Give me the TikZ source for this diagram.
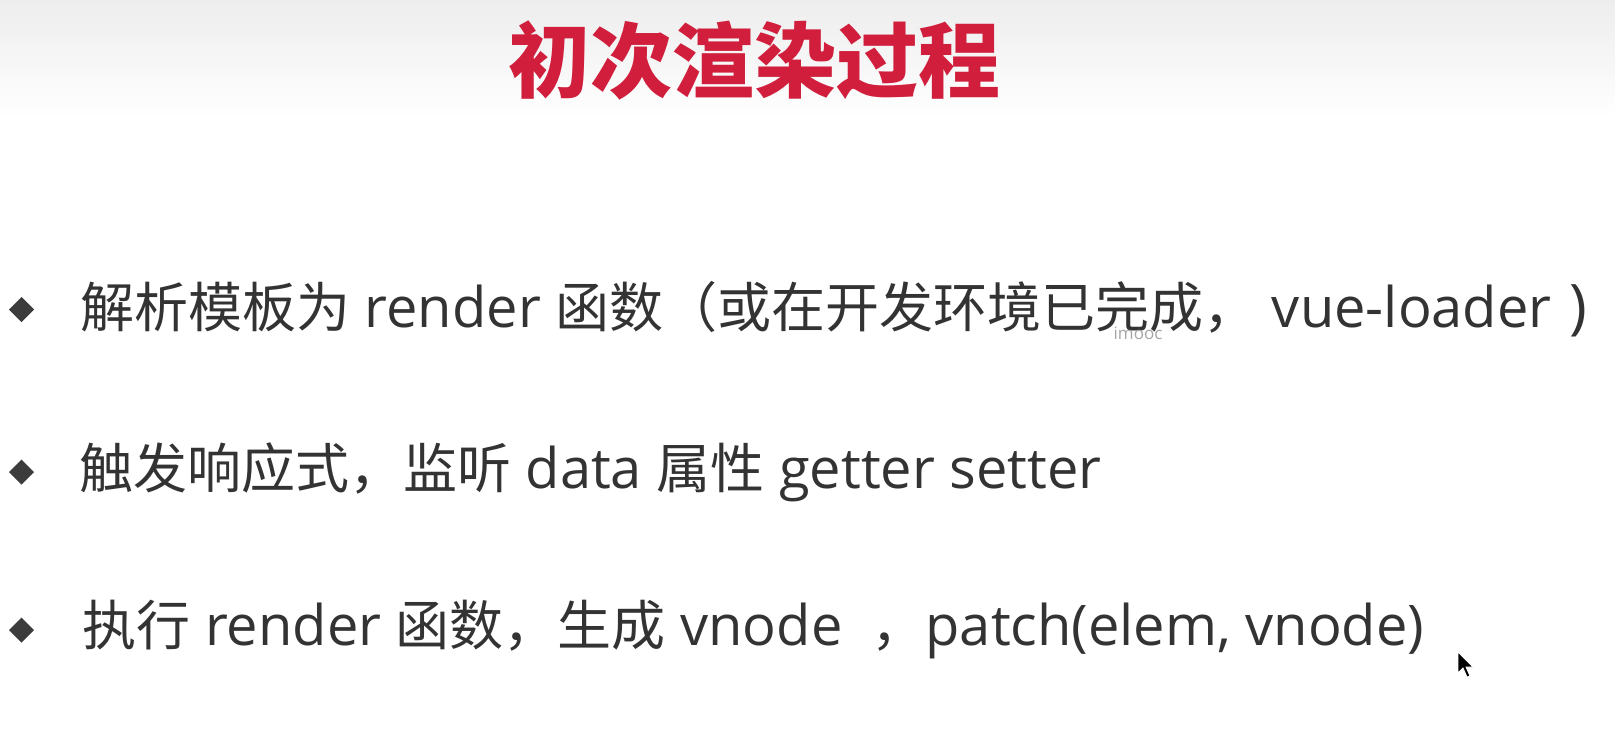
\documentclass[tikz,border=0pt]{standalone}
\usepackage{fontspec}
\setmainfont{Open Sans}
\newfontfamily\cjk{Noto Sans CJK SC}
\newcommand\zh[1]{{\cjk\fontsize{54}{64}\selectfont #1}}
\definecolor{titlered}{HTML}{D01E3C}
\definecolor{bodygray}{HTML}{333333}
\definecolor{bulletgray}{HTML}{3C3C3C}
\definecolor{topgray}{HTML}{EDEDED}
\begin{document}
\begin{tikzpicture}[x=1pt,y=-1pt,
  bodytext/.style={anchor=west,inner sep=0pt,text=bodygray,font=\fontsize{56}{66}\selectfont},
  bulletmark/.style={fill=bulletgray,draw=none},
]
\useasboundingbox (0,0) rectangle (1615,746);
\fill[white] (0,0) rectangle (1615,746);
\shade[top color=topgray,bottom color=white] (0,0) rectangle (1615,118);
% title
\node[inner sep=0pt,text=titlered,font=\cjk\bfseries\fontsize{82}{94}\selectfont] (title) at (754,60) {初次渲染过程};
% bullets
\foreach \y in {309.5,472,630}{
  \fill[bulletmark] (9,\y) -- (21.5,\y-12.5) -- (34,\y) -- (21.5,\y+12.5) -- cycle;
}
\node[bodytext] (l1) at (80,309) {\zh{解析模板为} render \zh{函数（或在开发环境已完成，} vue-loader\hspace{18pt}{\fontsize{60}{66}\selectfont )}};
\node[bodytext] (l2) at (79,472) {\zh{触发响应式，监听} data \zh{属性} getter setter};
\node[bodytext] (l3) at (82.5,630) {\zh{执行} render \zh{函数，生成} vnode \ \zh{，}patch(elem, vnode)};
% watermark
\node[inner sep=0pt,text=black!35,font=\fontsize{17}{20}\selectfont] (wm) at (1138,333) {imooc};
% cursor
\fill[black,draw=white,line width=0.8pt] (1458,652) -- (1458,673) -- (1463,668) -- (1467,677) -- (1470,676) -- (1466,667) -- (1473,667) -- cycle;
\end{tikzpicture}
\end{document}
